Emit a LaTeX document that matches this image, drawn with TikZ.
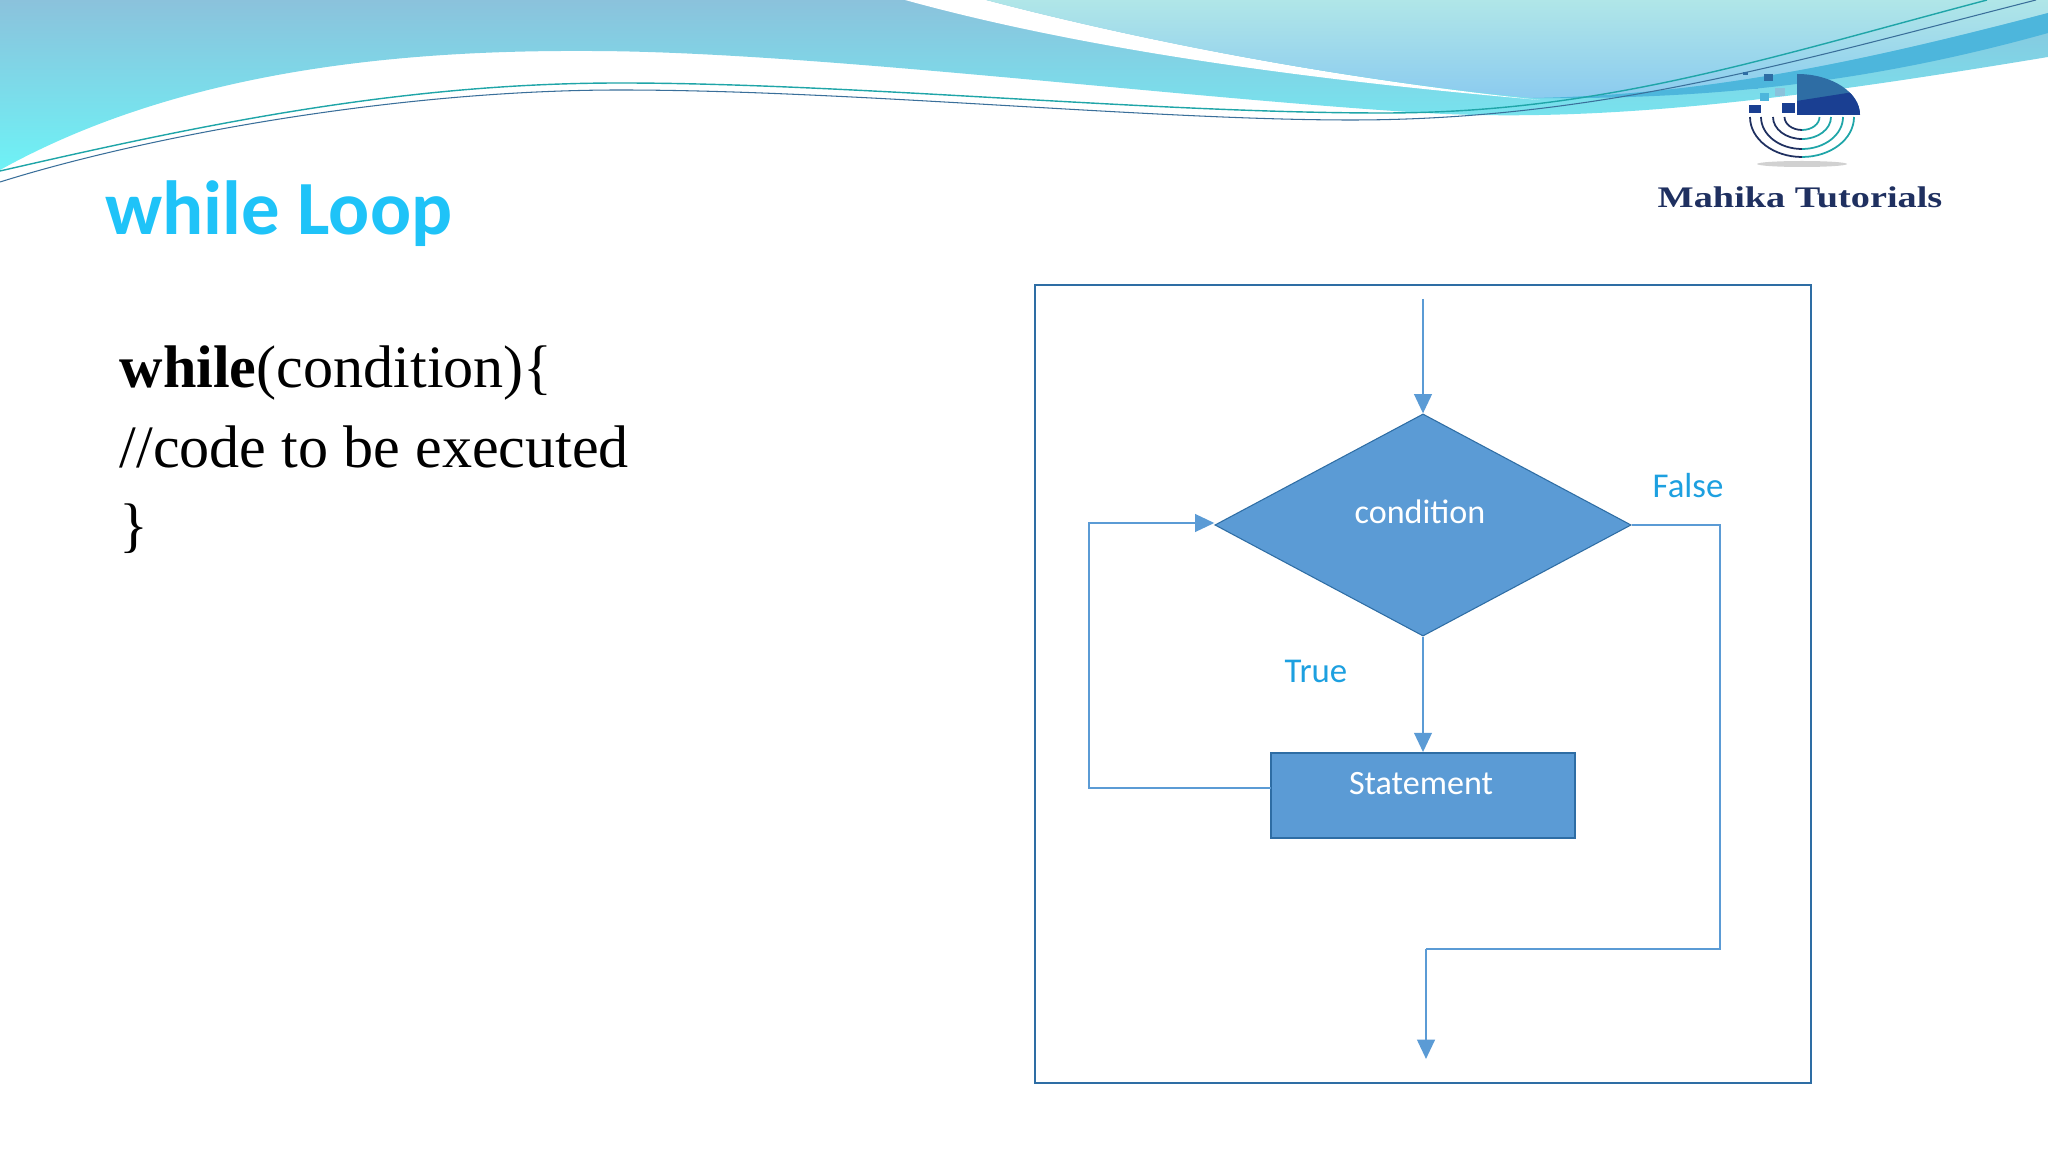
\documentclass[tikz,border=0pt]{standalone}
\usepackage{fontspec}
\setmainfont{Liberation Serif}
\newfontfamily\slidefont{Carlito}
\newfontfamily\logofont[FakeStretch=1.28]{Liberation Serif}
\usepackage{xcolor}
\usetikzlibrary{arrows.meta}
\usetikzlibrary{positioning,shapes.geometric}
\definecolor{flowblue}{HTML}{5B9BD5}
\definecolor{frameblue}{HTML}{2E6DA4}
\definecolor{labelblue}{HTML}{1DA0E0}
\definecolor{titleblue}{HTML}{1FC3F8}
\definecolor{logonavy}{HTML}{1A3F92}
\definecolor{logotext}{HTML}{1F3060}
\definecolor{bandtop}{HTML}{8BC2DC}
\definecolor{bandlow}{HTML}{6EF2F6}
\definecolor{skytop}{HTML}{B0E6E8}
\definecolor{skylow}{HTML}{8BCBEF}
\definecolor{stripe}{HTML}{4DB6DC}
\definecolor{wireone}{HTML}{1FA5A8}
\definecolor{wiretwo}{HTML}{3A6F9A}
\tikzset{
    flow/.style={
        draw=flowblue,
        line width=0.7pt,
        -{Triangle[length=5.5pt, width=5pt]}
    },
    flowline/.style={
        draw=flowblue,
        line width=0.7pt
    },
    codeline/.style={
        anchor=base west,
        inner sep=0pt,
        font=\fontsize{17.1}{20}\selectfont
    },
    boxtext/.style={
        text=white,
        inner sep=0pt,
        font=\slidefont\fontsize{9.7}{11}\selectfont
    },
    branch/.style={
        text=labelblue,
        inner sep=0pt,
        font=\slidefont\fontsize{9.9}{11}\selectfont
    }
}

\begin{document}
\begin{tikzpicture}[x=0.01cm, y=-0.01cm]
  \clip (0,0) rectangle (2048,1152);

  % Header band
  \shade[top color=bandtop, bottom color=bandlow]
    (0,170) .. controls (180,70) and (400,50) .. (588,51)
    .. controls (800,51) and (1150,95) .. (1409,112)
    .. controls (1600,125) and (1800,98) .. (2048,57)
    -- (2048,0) -- (0,0) -- cycle;

  % White swoosh
  \fill[white] (905,0) .. controls (1050,40) and (1250,75) .. (1540,100)
    .. controls (1300,75) and (1100,30) .. (986,0) -- cycle;

  % Light top shape
  \shade[top color=skytop, bottom color=skylow]
    (986,0) .. controls (1100,30) and (1300,75) .. (1533,98)
    .. controls (1700,95) and (1850,65) .. (2048,13)
    -- (2048,0) -- cycle;

  % Darker stripe on the right
  \fill[stripe]
    (1533,98) .. controls (1700,95) and (1850,65) .. (2048,13)
    -- (2048,33) .. controls (1880,80) and (1720,100) .. (1533,98) -- cycle;

  % Thin wires
  \draw[wireone, line width=0.4pt] (0,171) .. controls (200,125) and (400,83) .. (620,83)
    .. controls (850,83) and (1150,113) .. (1383,113)
    .. controls (1600,113) and (1760,60) .. (1987,0);
  \draw[wiretwo, line width=0.3pt] (0,182) .. controls (150,135) and (400,90) .. (620,90)
    .. controls (850,90) and (1150,120) .. (1351,120)
    .. controls (1600,120) and (1800,60) .. (2036,0);

  % Title
  \node[anchor=base west, inner sep=0pt, text=titleblue, font=\slidefont\bfseries\fontsize{21.8}{25}\selectfont] (title) at (105,235) {while Loop};

  % Code lines
  \node[codeline] (line1) at (119,388) {\textbf{while}(condition)\{};
  \node[codeline] (line2) at (119,468) {//code to be executed};
  \node[codeline] (line3) at (119,546) {\}};

  % Logo
  \fill[black!18] (1802,164) ellipse (45 and 3);
  \begin{scope}
    \clip (1797,115) -- (1797,74) arc (-90:0:63 and 41) -- cycle;
    \fill[frameblue] (1790,70) rectangle (1865,120);
    \fill[logonavy] (1790,102) -- (1860,91) -- (1865,120) -- (1790,120) -- cycle;
  \end{scope}
  \fill[logonavy] (1749,105) rectangle (1761,113);
  \fill[logonavy] (1782,103) rectangle (1795,113);
  \fill[frameblue] (1743,72) rectangle (1748,75);
  \fill[frameblue] (1764,74) rectangle (1773,81);
  \fill[stripe] (1747,83) rectangle (1758,89);
  \fill[stripe] (1760,93) rectangle (1769,101);
  \fill[bandtop] (1775,88) rectangle (1785,96);
  \foreach \rx/\ry in {52/40, 41/32, 29/22, 17.5/13} {
    \draw[logotext, line width=0.5pt] (1802-\rx,117) arc (180:90:{\rx} and {\ry});
    \draw[wireone, line width=0.5pt] (1802,117+\ry) arc (90:0:{\rx} and {\ry});
  }
  \node[inner sep=0pt, text=logotext, font=\logofont\bfseries\fontsize{8.5}{10}\selectfont] (logotitle) at (1800,197) {Mahika Tutorials};

  % Frame
  \node[draw=frameblue, line width=0.6pt, fill=white, minimum width=7.76cm, minimum height=7.98cm] (frame) at (1423,684) {};

  % Decision and statement
  \node[diamond, fill=flowblue, draw=frameblue, line width=0.3pt, aspect=1.87, inner sep=0pt, minimum width=4.16cm, minimum height=2.22cm] (cond) at (1423,525) {};
  \node[rectangle, fill=flowblue, draw=frameblue, line width=0.5pt, minimum width=3.04cm, minimum height=0.85cm] (stmt) at (1423,795.5) {};
  \node[boxtext] (condtext) at (1420,512) {condition};
  \node[boxtext] (stmttext) at (1421,784) {Statement};
  \node[branch] (truetext) at (1316,671) {True};
  \node[branch] (falsetext) at (1688,486) {False};

  % Free ends and bends
  \coordinate (start) at (1423,299);
  \coordinate (back0) at (1271,788);
  \coordinate (back1) at (1089,788);
  \coordinate (back2) at (1089,523);
  \coordinate (exit1) at (1720,525);
  \coordinate (exit2) at (1720,949);
  \coordinate (exit3) at (1426,949);
  \coordinate (finish) at (1426,1059);

  % Connectors
  \draw[flow] (start) -- (cond.north);
  \draw[flow] (cond.south) -- (stmt.north);
  \draw[flow] (back0) -- (back1) -- (back2) -- (back2 -| cond.west);
  \draw[flowline] (cond.east) -- (exit1) -- (exit2) -- (exit3);
  \draw[flow] (exit3) -- (finish);
\end{tikzpicture}
\end{document}
